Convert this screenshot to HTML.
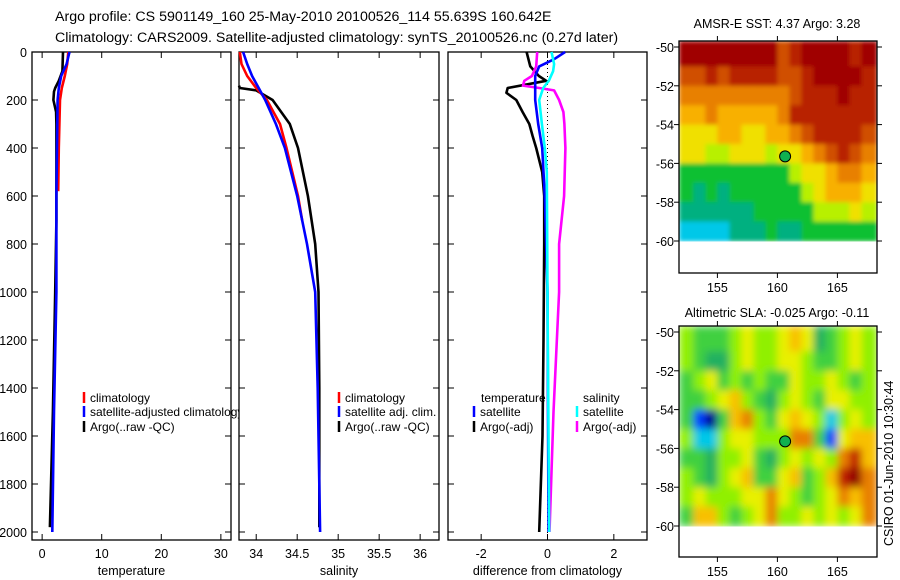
<!DOCTYPE html>
<html><head><meta charset="utf-8">
<style>
body{margin:0;background:#fff;}
svg{display:block;font-family:"Liberation Sans",sans-serif;}
text{fill:#000;}
</style></head>
<body>
<svg id="fig" width="900" height="580" viewBox="0 0 900 580">
<defs>
<filter id="blurSla" x="0" y="0" width="1" height="1"><feGaussianBlur stdDeviation="4" edgeMode="duplicate"/></filter>
<filter id="blurSst" x="0" y="0" width="1" height="1"><feGaussianBlur stdDeviation="2" edgeMode="duplicate"/></filter>
</defs>
<text x="55" y="21" font-size="14.2">Argo profile: CS 5901149_160 25-May-2010 20100526_114 55.639S 160.642E</text>
<text x="55" y="42" font-size="14.2">Climatology: CARS2009. Satellite-adjusted climatology: synTS_20100526.nc (0.27d later)</text>
<text x="777" y="28" font-size="12.5" text-anchor="middle">AMSR-E SST: 4.37 Argo: 3.28</text>
<text x="777" y="317" font-size="12.5" text-anchor="middle">Altimetric SLA: -0.025 Argo: -0.11</text>
<text transform="translate(893,546) rotate(-90)" font-size="12.5">CSIRO 01-Jun-2010 10:30:44</text>
<text x="327" y="516" font-size="12">Argo AUSTRALIA</text>
<text x="327" y="531" font-size="12">PI: Susan Wijffels</text>
</svg>
<script>
// ---- profile data ----
const tempClimDepth=[0,50,100,150,200,300,400,580];
const tempClimVal=[4.4,4.2,3.8,3.3,3.0,2.9,2.8,2.7];
const tempSatDepth=[0,50,100,150,200,400,600,1000,1500,2000];
const tempSatVal=[4.6,4.1,3.2,2.8,2.6,2.5,2.4,2.4,2.0,1.7];
const tempArgoDepth=[0,80,120,150,165,200,250,300,700,1000,1500,1980];
const tempArgoVal=[3.5,3.4,2.8,2.2,2.0,1.9,2.35,2.4,2.4,2.2,1.8,1.3];

const salClimDepth=[0,50,100,150,200,300,400,600,700];
const salClimVal=[33.8,33.82,33.89,34.0,34.13,34.29,34.37,34.51,34.56];
const salSatDepth=[0,50,100,150,200,300,400,600,800,1000,1400,2000];
const salSatVal=[33.84,33.89,33.95,34.03,34.11,34.24,34.35,34.5,34.62,34.72,34.75,34.78];
const salArgoDepth=[0,140,150,160,200,300,400,600,800,1000,1400,1980];
const salArgoVal=[null,33.79,33.8,34.0,34.2,34.41,34.51,34.63,34.72,34.76,34.77,34.77];

const dTempArgoDepth=[0,60,100,120,150,170,200,250,300,350,400,500,600,800,1200,1600,2000];
const dTempArgoVal=[-0.63,-0.52,-0.26,-0.04,-1.2,-1.24,-0.94,-0.75,-0.55,-0.45,-0.34,-0.16,-0.1,-0.1,-0.12,-0.15,-0.25];
const dTempSatDepth=[0,30,60,100,200,300,400,600,1000,2000];
const dTempSatVal=[0.53,0.2,-0.25,-0.37,-0.37,-0.28,-0.16,-0.08,0.0,0.03];
const dSalSatDepth=[0,50,80,120,150,200,300,400,500,1000,2000];
const dSalSatVal=[0.12,0.2,0.17,0.04,-0.13,-0.25,-0.17,-0.08,-0.02,0.0,0.05];
const dSalArgoDepth=[0,60,100,120,140,150,160,200,250,300,400,600,800,1000,1500,2000];
const dSalArgoVal=[-0.31,-0.34,-0.47,-0.7,-0.74,-0.25,0.2,0.35,0.48,0.51,0.54,0.5,0.35,0.35,0.18,0.06];

const depthTicks=[0,200,400,600,800,1000,1200,1400,1600,1800,2000];
const tempTicks=[0,10,20,30];
const salTicks=[34,34.5,35,35.5,36];
const salTickLabels=["34","34.5","35","35.5","36"];
const diffTicks=[-2,0,2];

// ---- map data (colour level per 1x1 degree cell; rows -50..-60, cols 152..168) ----
const sstRows=[
[9,9,9,9,9,9,9,9,7,8,9,9,9,9,8,9],
[7,7,8,7,8,8,8,8,7,7,8,9,9,9,9,8],
[6,6,6,6,6,6,6,6,6,7,8,8,8,9,8,8],
[5,5,6,5,5,5,5,5,6,8,8,8,8,8,8,8],
[4,4,4,5,5,4,4,5,5,6,7,8,8,8,8,7],
[4,4,3,3,4,4,4,3,4,4,5,6,7,8,7,6],
[2,2,2,2,2,2,2,2,2,3,4,4,5,6,6,5],
[2,1,2,1,2,2,2,2,2,2,3,4,5,5,5,4],
[1,1,1,1,1,1,2,2,2,2,2,3,3,3,4,3],
[0,0,0,0,1,1,1,2,1,1,2,2,2,2,2,2]];
const sstColors=["#00c8e8","#00b080","#10c030","#b8f000","#f0e000","#f8b000","#e88000","#d05000","#b82000","#a00000"];
const slaRows=[
[5,4,4,4,5,6,5,5,6,7,6,3,4,5,6,5],
[5,4,3,3,5,6,5,5,6,6,5,4,4,5,6,5],
[4,5,6,4,5,4,5,4,4,6,5,5,6,5,4,5],
[4,4,5,6,7,5,4,3,5,6,5,4,6,6,5,5],
[4,1,0,4,7,8,5,4,6,7,6,5,2,5,6,5],
[5,2,2,5,6,6,5,5,5,8,8,4,1,6,7,7],
[4,4,3,5,5,6,4,3,5,6,5,6,5,8,9,7],
[5,4,3,5,6,7,4,4,6,7,4,5,7,9,10,8],
[5,6,5,5,5,6,6,8,6,5,4,5,6,8,7,8],
[4,7,7,5,4,5,6,8,5,5,6,5,6,5,6,8]];
const slaColors=["#000090","#0040ff","#00c8e8","#20b060","#40d040","#90f000","#e8f000","#f8c000","#e88000","#c02000","#900000"];
const mapLatTicks=[-50,-52,-54,-56,-58,-60];
const mapLonTicks=[155,160,165];
const argoLon=160.642, argoLat=-55.639;

const NS="http://www.w3.org/2000/svg";
const svg=document.getElementById('fig');
function mk(tag,attrs,parent){const e=document.createElementNS(NS,tag);for(const k in attrs)e.setAttribute(k,attrs[k]);(parent||svg).appendChild(e);return e;}

const PT=52,PB=540;
function yD(d){return PT+d/1000*240;}

function panel(name,x0,x1,xmin,xmax,ticks,labels,xlabel,showY){
  const g=mk('g',{});
  
  
  const xs=v=>x0+(v-xmin)/(xmax-xmin)*(x1-x0);
  const r=mk('rect',{x:x0,y:PT,width:x1-x0,height:PB-PT,fill:'#fff',stroke:'#000','stroke-width':1.3},g);
  
  
  depthTicks.forEach(d=>{
    const y=yD(d);
    mk('line',{x1:x0,x2:x0+6,y1:y,y2:y,stroke:'#000'},g);
    mk('line',{x1:x1-6,x2:x1,y1:y,y2:y,stroke:'#000'},g);
    if(showY){const t=mk('text',{x:x0-5,y:y+5,'font-size':12.5,'text-anchor':'end'},g);t.textContent=d;
      
      }
  });
  ticks.forEach((v,i)=>{
    const x=xs(v);
    mk('line',{x1:x,x2:x,y1:PT,y2:PT+6,stroke:'#000'},g);
    mk('line',{x1:x,x2:x,y1:PB-6,y2:PB,stroke:'#000'},g);
    const t=mk('text',{x:x,y:PB+18,'font-size':12.5,'text-anchor':'middle'},g);t.textContent=labels[i];
    
    
  });
  const xl=mk('text',{x:(x0+x1)/2,y:PB+35,'font-size':12.5,'text-anchor':'middle'},g);xl.textContent=xlabel;
  
  
  return {g,xs};
}
function series(p,depths,vals,color,nm,w){
  let d='';let pen=false;
  depths.forEach((dep,i)=>{if(vals[i]===null){pen=false;return;}
    d+=(pen?'L':'M')+p.xs(vals[i]).toFixed(1)+' '+yD(dep).toFixed(1);pen=true;});
  const e=mk('path',{d:d,fill:'none',stroke:color,'stroke-width':w||2.6,'stroke-linejoin':'round'},p.g);
  
  
}
function legend(p,x,y,color,label){
  const l=mk('line',{x1:x,x2:x,y1:y-10,y2:y+1,stroke:color,'stroke-width':2.5},p.g);
  
  
  const t=mk('text',{x:x+6,y:y,'font-size':12},p.g);t.textContent=label;
  
  
}

// temperature panel
const p1=panel('temperature-panel',32,231,-1.7,31.7,tempTicks,tempTicks.map(String),'temperature',true);
series(p1,tempArgoDepth,tempArgoVal,'#000','temp-argo-line');
series(p1,tempClimDepth,tempClimVal,'#f00','temp-climatology-line');
series(p1,tempSatDepth,tempSatVal,'#00f','temp-satellite-line');
legend(p1,84,402,'#f00','climatology');
legend(p1,84,416,'#00f','satellite-adjusted climatology');
legend(p1,84,431,'#000','Argo(..raw -QC)');

// salinity panel
const p2=panel('salinity-panel',239,439,33.79,36.23,salTicks,salTickLabels,'salinity',false);
series(p2,salArgoDepth,salArgoVal,'#000','sal-argo-line');
series(p2,salClimDepth,salClimVal,'#f00','sal-climatology-line');
series(p2,salSatDepth,salSatVal,'#00f','sal-satellite-line');
legend(p2,339,402,'#f00','climatology');
legend(p2,339,416,'#00f','satellite adj. clim.');
legend(p2,339,431,'#000','Argo(..raw -QC)');

// difference panel
const p3=panel('difference-panel',448,647,-3,3,diffTicks,diffTicks.map(String),'difference from climatology',false);
const zl=mk('line',{x1:p3.xs(0),x2:p3.xs(0),y1:PT,y2:PB,stroke:'#000','stroke-dasharray':'1,3'},p3.g);


series(p3,dTempArgoDepth,dTempArgoVal,'#000','dtemp-argo-line');
series(p3,dSalArgoDepth,dSalArgoVal,'#f0f','dsal-argo-line');
series(p3,dTempSatDepth,dTempSatVal,'#00f','dtemp-satellite-line');
series(p3,dSalSatDepth,dSalSatVal,'#0ff','dsal-satellite-line');
const lt=mk('text',{x:481,y:402,'font-size':12},p3.g);lt.textContent='temperature';


const ls=mk('text',{x:583,y:402,'font-size':12},p3.g);ls.textContent='salinity';


legend(p3,474,416,'#00f','satellite');
legend(p3,474,431,'#000','Argo(-adj)');
legend(p3,577,416,'#0ff','satellite');
legend(p3,577,431,'#f0f','Argo(-adj)');

// maps
function map(name,top,lat50y,lat60y,bottom,rows,colors,filt){
  const x0=679,x1=877,lon0=151.8,lon1=168.3;
  const g=mk('g',{});
  
  
  const lx=v=>x0+(v-lon0)/(lon1-lon0)*(x1-x0);
  const ly=v=>lat50y+(-50-v)/10*(lat60y-lat50y);
  mk('rect',{x:x0,y:top,width:x1-x0,height:bottom-top,fill:'#fff'},g);
  const cells=mk('g',{filter:'url(#'+filt+')'},g);
  
  
  rows.forEach((row,r)=>{row.forEach((lev,c)=>{
    const la=-50-r, lo=152+c;
    const ya=r===0?top:ly(la), yb=ly(la-1);
    const xa=c===0?x0:lx(lo), xb=c===row.length-1?x1:lx(lo+1);
    const cell=mk('rect',{x:xa.toFixed(1),y:ya.toFixed(1),width:(xb-xa+0.5).toFixed(1),height:(yb-ya+0.5).toFixed(1),fill:colors[lev]},cells);
    
    
  });});
  const f=mk('rect',{x:x0,y:top,width:x1-x0,height:bottom-top,fill:'none',stroke:'#000','stroke-width':1.3},g);
  
  
  mapLatTicks.forEach(v=>{const y=ly(v);
    mk('line',{x1:x0-5,x2:x0,y1:y,y2:y,stroke:'#000'},g);
    mk('line',{x1:x1,x2:x1+5,y1:y,y2:y,stroke:'#000'},g);
    const t=mk('text',{x:x0-5,y:y+5,'font-size':12.5,'text-anchor':'end'},g);t.textContent=v;
    
    });
  mapLonTicks.forEach(v=>{const x=lx(v);
    mk('line',{x1:x,x2:x,y1:top-5,y2:top,stroke:'#000'},g);
    mk('line',{x1:x,x2:x,y1:bottom,y2:bottom+5,stroke:'#000'},g);
    const t=mk('text',{x:x,y:bottom+19,'font-size':12.5,'text-anchor':'middle'},g);t.textContent=v;
    
    });
  const m=mk('circle',{cx:lx(argoLon),cy:ly(argoLat),r:5.5,fill:'#10b050',stroke:'#000','stroke-width':1},g);
  
  
}
map('sst-map',41,47,241,273,sstRows,sstColors,'blurSst');
map('sla-map',326,332,526,557,slaRows,slaColors,'blurSla');
</script>
</body></html>
